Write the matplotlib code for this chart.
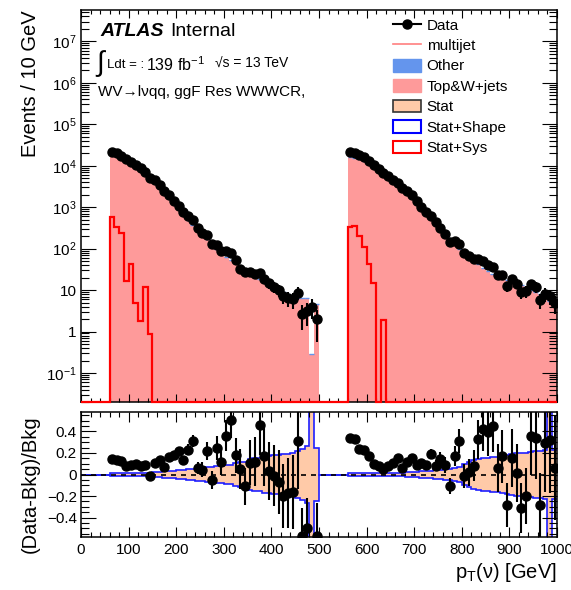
import numpy as np
import matplotlib.pyplot as plt
from matplotlib.lines import Line2D
from matplotlib.patches import Patch
from matplotlib.ticker import MultipleLocator, LogLocator, FixedLocator, FixedFormatter, NullFormatter

plt.rcParams['font.family'] = ['Liberation Sans', 'DejaVu Sans']
plt.rcParams['mathtext.fontset'] = 'custom'
plt.rcParams['mathtext.rm'] = 'Liberation Sans'
plt.rcParams['mathtext.it'] = 'Liberation Sans:italic'
plt.rcParams['mathtext.bf'] = 'Liberation Sans:bold'

# two categories laid side by side, 10 GeV bins
edges_a = np.arange(60, 501, 10)
edges_b = np.arange(560, 1001, 10)

bkg_a = [19050, 17580, 15490, 13650, 11480, 9550, 8040, 6380, 5250, 3980,
         3090, 2340, 1660, 1200, 890, 676, 501, 372, 295, 229,
         174, 135, 100, 79.4, 64.6, 52.5, 44.7, 31.6, 30.2, 25.1,
         21.4, 18.2, 15.8, 14.1, 12.3, 10.7, 9.1, 7.9, 7.2, 6.6,
         6.3, 6.3, 0.28, 4.6]
ratio_a = [0.145, 0.133, 0.124, 0.077, 0.09, 0.10, 0.08, 0.09, -0.01, 0.11,
           0.13, 0.07, 0.16, 0.185, 0.22, 0.13, 0.23, 0.31, 0.06, 0.045,
           0.22, -0.05, 0.25, 0.115, 0.36, 0.505, 0.177, 0.05, -0.11, 0.11,
           0.12, 0.46, 0.17, 0.03, -0.01, -0.07, -0.2, -0.17, -0.16, 0.31,
           -0.57, -0.5, 13.3, -0.57]
multijet_a = [575, 330, 245, 16.6, 43.5, 4.9, 1.8, 12, 0.85, 0,
              0, 0, 0, 0, 0, 0, 0, 0, 0, 0,
              0, 0, 0, 0, 0, 0, 0, 0, 0, 0,
              0, 0, 0, 0, 0, 0, 0, 0, 0, 0,
              0, 0, 0, 0]
unc_a = [0.012, 0.012, 0.012, 0.012, 0.012, 0.012, 0.012, 0.012, 0.015, 0.02,
         0.025, 0.03, 0.03, 0.035, 0.04, 0.045, 0.05, 0.05, 0.06, 0.06,
         0.07, 0.07, 0.08, 0.08, 0.09, 0.09, 0.11, 0.12, 0.12, 0.14,
         0.15, 0.15, 0.17, 0.17, 0.18, 0.18, 0.19, 0.19, 0.2, 0.22,
         0.24, 0.26, 5.0, 0.25]

bkg_b = [16220, 15490, 14450, 12880, 10960, 9330, 7760, 6310, 5130, 4170,
         3390, 2750, 2140, 1660, 1260, 933, 708, 525, 398, 275,
         204, 162, 129, 100, 79.4, 64.6, 52.5, 41.7, 34.7, 29.5,
         25.1, 21.9, 19.5, 17.4, 15.8, 14.1, 13.2, 11.7, 10.2, 9.1,
         8.1, 6.3, 5.4, 4.6]
ratio_b = [0.34, 0.33, 0.24, 0.23, 0.17, 0.10, 0.08, 0.05, 0.08, 0.11,
           0.15, 0.06, 0.12, 0.155, 0.09, 0.11, 0.085, 0.19, 0.08, 0.14,
           0.09, -0.11, 0.17, 0.31, -0.01, 0.02, 0.08, 0.325, 0.42, 0.39,
           0.45, 0.06, 0.17, -0.28, 0.155, 0.015, -0.31, -0.2, 0.36, 0.34,
           -0.28, 0.29, 0.32, 0.06]
multijet_b = [325, 355, 205, 110, 43.5, 14.5, 0, 1.86, 0, 0,
              0, 0, 0, 0, 0, 0, 0, 0, 0, 0,
              0, 0, 0, 0, 0, 0, 0, 0, 0, 0,
              0, 0, 0, 0, 0, 0, 0, 0, 0, 0,
              0, 0, 0, 0]
unc_b = [0.01, 0.01, 0.01, 0.01, 0.01, 0.01, 0.01, 0.01, 0.01, 0.012,
         0.015, 0.015, 0.02, 0.02, 0.025, 0.03, 0.03, 0.035, 0.04, 0.045,
         0.05, 0.055, 0.06, 0.07, 0.1, 0.12, 0.13, 0.14, 0.15, 0.15,
         0.16, 0.16, 0.17, 0.18, 0.19, 0.2, 0.2, 0.2, 0.21, 0.22,
         0.22, 0.23, 5.0, 0.23]

c_top = '#fe9a9a'
c_other = '#6495ed'
c_stat = '#ffcaa8'
c_shape = '#1f1fff'

ymin, ymax = 0.02, 5.7e7
rmin, rmax = -0.58, 0.58

fig = plt.figure(figsize=(5.71, 5.90), dpi=100)
ax = fig.add_axes([81/571, 1 - 402/590, 476/571, 392/590])
rax = fig.add_axes([81/571, 1 - 537/590, 476/571, 125/590])

full_edges = np.arange(0, 1001, 10)
mj_full = np.zeros(100)
unc_full = np.zeros(100)
mj_full[6:50] = multijet_a
mj_full[56:100] = multijet_b
unc_full[6:50] = unc_a
unc_full[56:100] = unc_b

for edges, bkg, ratio in [(edges_a, bkg_a, ratio_a), (edges_b, bkg_b, ratio_b)]:
    bkg = np.array(bkg)
    ratio = np.array(ratio)
    data = bkg * (1 + ratio)
    centers = 0.5 * (edges[:-1] + edges[1:])
    err = np.sqrt(data)

    ax.stairs(bkg, edges, fill=True, color=c_top, baseline=1e-3, lw=0)
    ax.hlines(bkg, edges[:-1], edges[1:], color=c_other, lw=1.0)
    ax.errorbar(centers, data, yerr=err, fmt='o', color='k', ms=6.5, lw=1.5, capsize=0, zorder=4)

    rax.errorbar(centers, ratio, yerr=err / bkg, fmt='o', color='k', ms=6.5, lw=1.5, capsize=0, zorder=4)

# multijet: empty bins sit on the bottom of the frame
ax.stairs(np.where(mj_full > 0, mj_full, ymin), full_edges, color='red', lw=1.6,
          baseline=None, clip_on=False, zorder=3)

# ratio panel bands
rax.stairs(unc_full, full_edges, baseline=-unc_full, fill=True, color=c_stat, lw=0)
rax.stairs(unc_full, full_edges, baseline=None, color=c_shape, lw=1.2)
rax.stairs(-unc_full, full_edges, baseline=None, color=c_shape, lw=1.2)
rax.axhline(0, color='k', ls=(0, (3, 3)), lw=1.2, zorder=3)

# axes
ax.set_yscale('log')
ax.set_xlim(0, 1000)
ax.set_ylim(ymin, ymax)
rax.set_xlim(0, 1000)
rax.set_ylim(rmin, rmax)

decades = list(range(-1, 8))
ax.yaxis.set_major_locator(FixedLocator([10.0**k for k in decades]))
ax.yaxis.set_major_formatter(FixedFormatter(
    ['$10^{-1}$', '1', '10'] + ['$10^{%d}$' % k for k in decades[3:]]))
ax.yaxis.set_minor_locator(LogLocator(base=10, subs=np.arange(2, 10), numticks=20))
ax.yaxis.set_minor_formatter(NullFormatter())
for a in (ax, rax):
    a.xaxis.set_major_locator(MultipleLocator(100))
    a.xaxis.set_minor_locator(MultipleLocator(20))
    a.tick_params(which='both', direction='in', top=True, right=True, width=0.8, labelsize=11)
    for s in a.spines.values():
        s.set_linewidth(1.1)
rax.yaxis.set_major_locator(FixedLocator([-0.4, -0.2, 0, 0.2, 0.4]))
rax.yaxis.set_major_formatter(FixedFormatter(['\u22120.4', '\u22120.2', '0', '0.2', '0.4']))
rax.yaxis.set_minor_locator(MultipleLocator(0.05))

ax.tick_params(labelbottom=False)
ax.xaxis.set_tick_params(which='major', length=6)
ax.xaxis.set_tick_params(which='minor', length=3)
ax.yaxis.set_tick_params(which='major', length=11, pad=3)
ax.yaxis.set_tick_params(which='minor', length=5.5)
rax.xaxis.set_tick_params(which='major', length=7, pad=4)
rax.xaxis.set_tick_params(which='minor', length=3.5)
rax.yaxis.set_tick_params(which='major', length=11, pad=3)
rax.yaxis.set_tick_params(which='minor', length=5.5)

ax.set_ylabel('Events / 10 GeV', fontsize=14.5, loc='top')
ax.yaxis.set_label_coords(-0.086, 1.0)
rax.set_ylabel('(Data-Bkg)/Bkg', fontsize=14.5)
rax.yaxis.set_label_coords(-0.086, 0.42)
rax.set_xlabel('p$_{\\mathregular{T}}$(\u03bd) [GeV]', fontsize=14.5, loc='right')
rax.xaxis.set_label_coords(1.0, -0.19)

# labels in the top-left corner
def px(x, y):
    return x / 571, 1 - y / 590

fig.text(*px(100, 31), 'ATLAS', fontsize=14, weight='bold', style='italic', va='center')
fig.text(*px(170, 31), 'Internal', fontsize=14, va='center')
fig.text(*px(96, 64), '\u222b', fontsize=20, va='center')
fig.text(*px(107, 65), 'Ldt = :', fontsize=9.5, va='center')
fig.text(*px(146, 65), '139 fb$^{-1}$', fontsize=11.5, va='center')
fig.text(*px(215, 64), '\u221as = 13 TeV', fontsize=10, va='center')
fig.text(*px(98, 92), 'WV\u2192l\u03bdqq, ggF Res WWWCR,', fontsize=11, va='center')

handles = [
    Line2D([0], [0], color='k', marker='o', ms=6.5, lw=1.5),
    Line2D([0], [0], color='#ff7f7f', lw=1.2),
    Patch(facecolor=c_other, edgecolor=c_other),
    Patch(facecolor=c_top, edgecolor=c_top),
    Patch(facecolor=c_stat, edgecolor='#333333', lw=1.2),
    Patch(facecolor='white', edgecolor='blue', lw=1.5),
    Patch(facecolor='white', edgecolor='red', lw=1.5),
]
labels = ['Data', 'multijet', 'Other', 'Top&W+jets', 'Stat', 'Stat+Shape', 'Stat+Sys']
ax.legend(handles, labels, loc='upper left', bbox_to_anchor=((393 - 81) / 476, (402 - 18) / 392),
          frameon=False, fontsize=11, handlelength=1.8, handleheight=0.9,
          handletextpad=0.4, labelspacing=0.38, borderpad=0, borderaxespad=0)

fig.savefig('out.png', dpi=100)
